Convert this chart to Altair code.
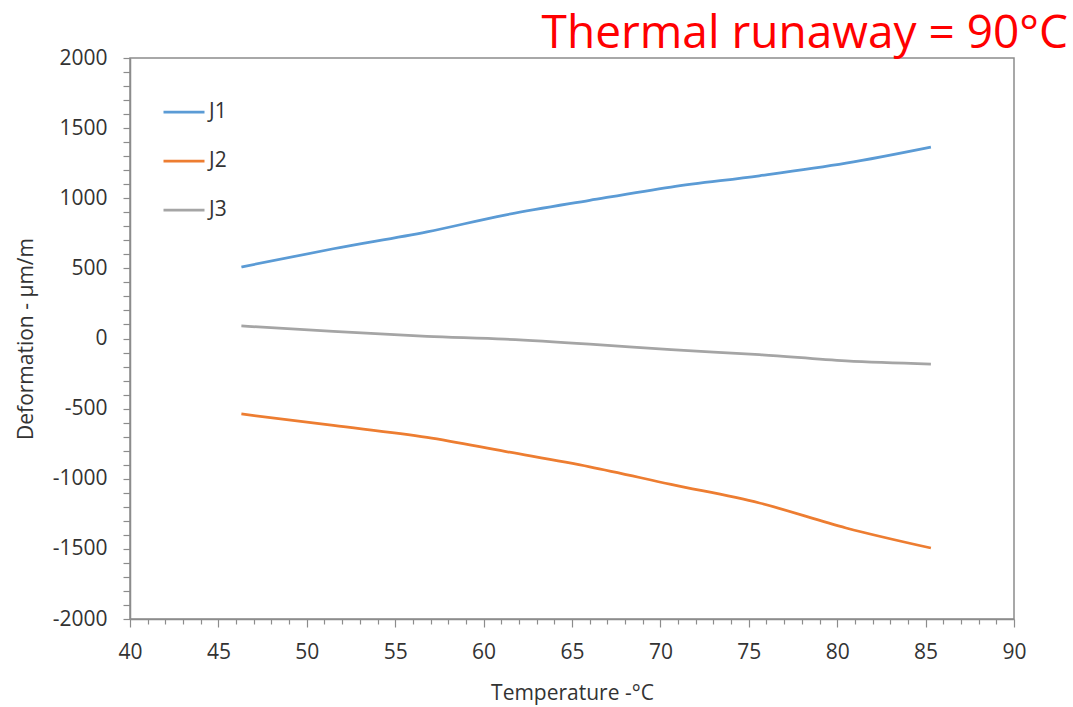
import altair as alt
import pandas as pd

# Temperature steps (°C) and measured deformation per joint (µm/m)
temperature = [46.3, 51.5, 56.8, 61.2, 66.0, 70.6, 75.6, 80.5, 85.3]
j1 = [510, 640, 760, 880, 985, 1080, 1160, 1250, 1365]
j2 = [-538, -620, -705, -805, -915, -1040, -1173, -1351, -1494]
j3 = [90, 50, 15, -5, -40, -80, -115, -160, -182]

series = {"J1": j1, "J2": j2, "J3": j3}
rows = []
for name, vals in series.items():
    for t, v in zip(temperature, vals):
        rows.append({"Temperature": t, "Deformation": v, "Joint": name})
df = pd.DataFrame(rows)

FONT = "Open Sans"
TEXT = "#333333"
FRAME = "#8c8c8c"

x_ticks = list(range(40, 91))
y_ticks = list(range(-2000, 2001, 100))

chart = (
    alt.Chart(df)
    .mark_line(strokeWidth=2.75, interpolate="monotone")
    .encode(
        x=alt.X(
            "Temperature:Q",
            scale=alt.Scale(domain=[40, 90], nice=False, zero=False),
            axis=alt.Axis(
                title="Temperature  -°C",
                values=x_ticks,
                labelExpr="datum.value % 5 === 0 ? datum.label : ''",
                tickSize={"condition": {"test": "datum.value % 5 === 0", "value": 8}, "value": 5},
                labelPadding=14,
                labelFlush=False,
                labelOverlap=False,
                titlePadding=20,
                grid=False,
            ),
        ),
        y=alt.Y(
            "Deformation:Q",
            scale=alt.Scale(domain=[-2000, 2000], nice=False),
            axis=alt.Axis(
                title="Deformation - µm/m",
                values=y_ticks,
                labelExpr="datum.value % 500 === 0 ? '' + datum.value : ''",
                tickSize=7,
                labelPadding=16,
                labelFlush=False,
                labelOverlap=False,
                titlePadding=16,
                grid=False,
            ),
        ),
        color=alt.Color(
            "Joint:N",
            scale=alt.Scale(domain=["J1", "J2", "J3"], range=["#5B9BD5", "#ED7D31", "#A5A5A5"]),
            legend=alt.Legend(
                title=None,
                orient="none",
                legendX=32,
                legendY=32,
                symbolType="stroke",
                symbolSize=1681,
                symbolStrokeWidth=2.75,
                labelFontSize=21,
                labelFont=FONT,
                labelColor=TEXT,
                labelOffset=3,
                rowPadding=17,
                padding=0,
            ),
        ),
    )
    .properties(
        width=884,
        height=561,
        padding={"left": 130, "top": 58, "right": 59, "bottom": 88},
        autosize=alt.AutoSizeParams(type="none"),
        background="white",
        title=alt.TitleParams(
            "Thermal runaway = 90°C",
            anchor="end",
            frame="group",
            color="#FF0000",
            font=FONT,
            fontSize=46,
            fontWeight="normal",
            dx=54,
            dy=19,
            offset=8,
        ),
    )
    .configure_view(stroke=FRAME, strokeWidth=1.5)
    .configure_axis(
        labelFont=FONT,
        labelFontSize=21,
        labelColor=TEXT,
        titleFont=FONT,
        titleFontSize=21,
        titleFontWeight="normal",
        titleColor=TEXT,
        domainColor=FRAME,
        domainWidth=1.5,
        tickColor=FRAME,
        tickWidth=1.2,
    )
)

chart.save("out.html", embed_options={"renderer": "svg", "actions": False})
